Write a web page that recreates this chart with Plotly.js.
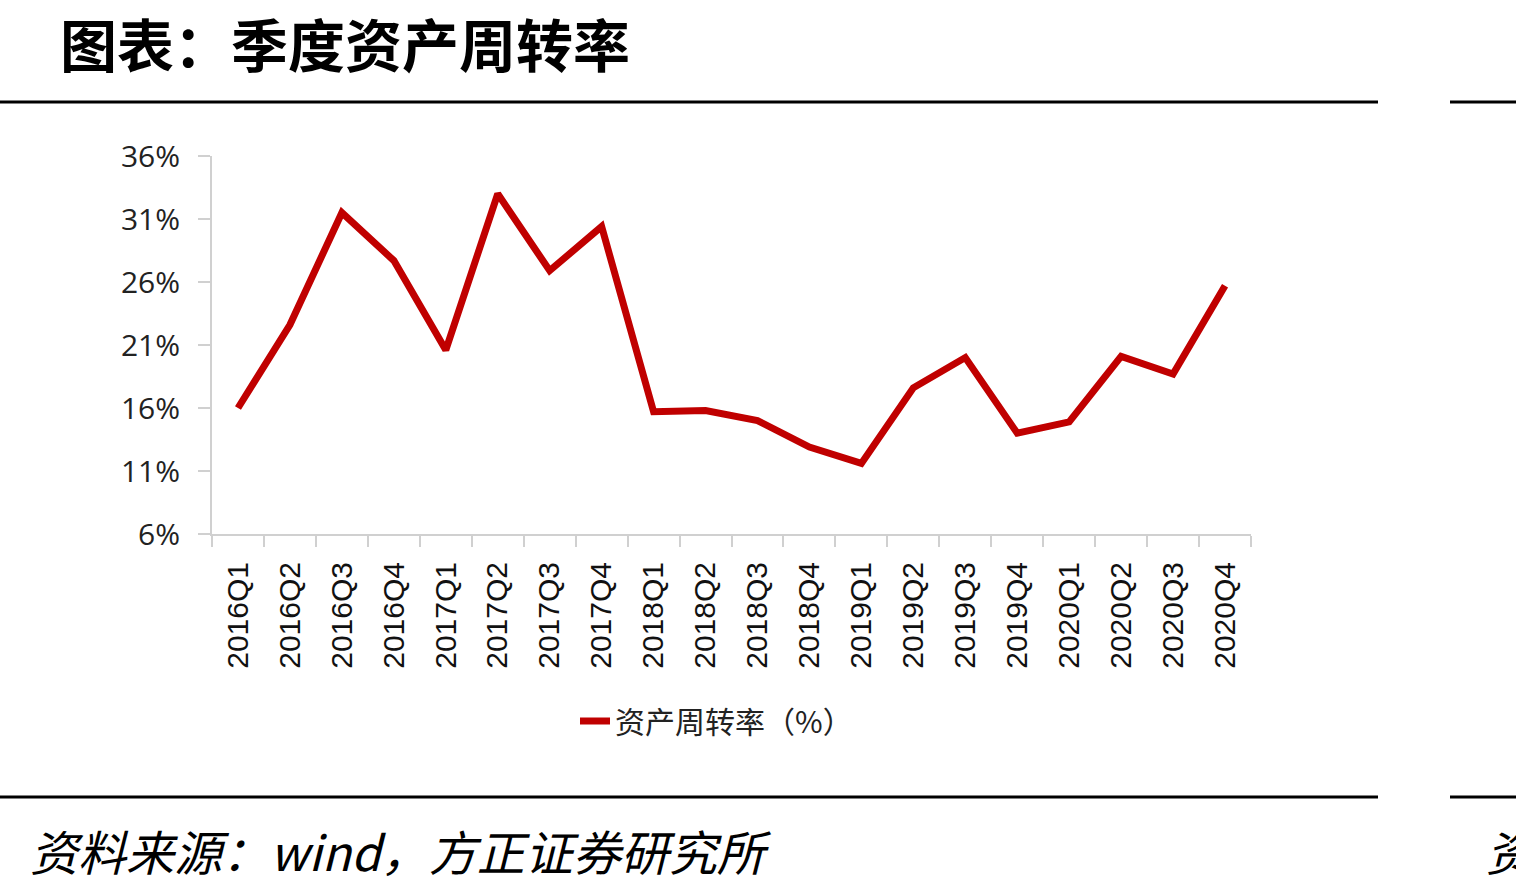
<!DOCTYPE html>
<html>
<head>
<meta charset="utf-8">
<script src="https://cdn.plot.ly/plotly-3.0.1.min.js"></script>
<style>
  html, body { margin: 0; padding: 0; background: #fff; }
  #chart { width: 1516px; height: 889px; }
</style>
</head>
<body>
<div id="chart"></div>
<script>
// 季度资产周转率 (%)
const quarters = [
  '2016Q1', '2016Q2', '2016Q3', '2016Q4',
  '2017Q1', '2017Q2', '2017Q3', '2017Q4',
  '2018Q1', '2018Q2', '2018Q3', '2018Q4',
  '2019Q1', '2019Q2', '2019Q3', '2019Q4',
  '2020Q1', '2020Q2', '2020Q3', '2020Q4',
];
const turnover = [
  16.0, 22.6, 31.5, 27.7,
  20.6, 33.0, 26.9, 30.4,
  15.7, 15.8, 15.0, 12.9,
  11.6, 17.6, 20.0, 14.0,
  14.9, 20.1, 18.7, 25.7,
];
const yTicks = [6, 11, 16, 21, 26, 31, 36];
const seriesName = '资产周转率（%）';

const W = 1516, H = 889;
const M = { l: 212, r: 265, t: 156, b: 355 };
// pixel -> paper helpers for the frame lines and texts
const px = (x) => (x - M.l) / (W - M.l - M.r);
const py = (y) => (H - M.b - y) / (H - M.t - M.b);

const axisGrey = '#d0d0d0';
const red = '#C00000';

const frameLine = (x0, x1, y) => ({
  type: 'line', xref: 'paper', yref: 'paper',
  x0: px(x0), x1: px(x1), y0: py(y), y1: py(y),
  line: { color: '#000', width: 3 },
});

const traces = [{
  x: quarters,
  y: turnover,
  type: 'scatter',
  mode: 'lines',
  name: seriesName,
  line: { color: red, width: 7 },
  hovertemplate: '%{x}: %{y:.1f}%<extra></extra>',
}];

const layout = {
  width: W,
  height: H,
  margin: M,
  paper_bgcolor: '#fff',
  plot_bgcolor: '#fff',
  showlegend: true,
  legend: {
    orientation: 'h',
    x: px(575), xanchor: 'left',
    y: py(721), yanchor: 'middle',
    font: { family: 'Noto Sans CJK SC, sans-serif', size: 30, color: '#222' },
    bgcolor: 'rgba(0,0,0,0)',
  },
  xaxis: {
    type: 'category',
    showgrid: false,
    showline: true,
    linecolor: axisGrey,
    linewidth: 2,
    ticks: 'outside',
    tickson: 'boundaries',
    ticklen: 11,
    tickwidth: 2,
    tickcolor: axisGrey,
    tickangle: -90,
    ticklabelstandoff: 14,
    tickfont: { family: 'Liberation Sans, Arial, sans-serif', size: 30, color: '#111' },
    range: [-0.5, quarters.length - 0.5],
    zeroline: false,
  },
  yaxis: {
    range: [6, 36],
    tickvals: yTicks,
    ticktext: yTicks.map((v) => v + '%'),
    showgrid: false,
    showline: true,
    linecolor: axisGrey,
    linewidth: 2,
    ticks: 'outside',
    ticklen: 12,
    tickwidth: 2,
    tickcolor: axisGrey,
    ticklabelstandoff: 12,
    tickfont: { family: 'Open Sans, sans-serif', size: 30, color: '#222' },
    zeroline: false,
  },
  shapes: [
    frameLine(0, 1378, 102),
    frameLine(1450, 1516, 102),
    frameLine(0, 1378, 797),
    frameLine(1450, 1516, 797),
  ],
  annotations: [
    {
      xref: 'paper', yref: 'paper', x: px(58), y: py(42),
      xanchor: 'left', yanchor: 'middle', showarrow: false,
      text: '<b>图表：季度资产周转率</b>',
      font: { family: 'Noto Sans CJK SC, sans-serif', size: 57, color: '#000' },
    },
    {
      xref: 'paper', yref: 'paper', x: px(28), y: py(850),
      xanchor: 'left', yanchor: 'middle', showarrow: false,
      text: '<i>资料来源：wind，方正证券研究所</i>',
      font: { family: 'Noto Sans CJK SC, sans-serif', size: 48, color: '#000' },
    },
    {
      xref: 'paper', yref: 'paper', x: px(1484), y: py(850),
      xanchor: 'left', yanchor: 'middle', showarrow: false,
      text: '<i>资料来源</i>',
      font: { family: 'Noto Sans CJK SC, sans-serif', size: 48, color: '#000' },
    },
  ],
};

Plotly.newPlot('chart', traces, layout, { displayModeBar: false, staticPlot: true });
</script>
</body>
</html>
